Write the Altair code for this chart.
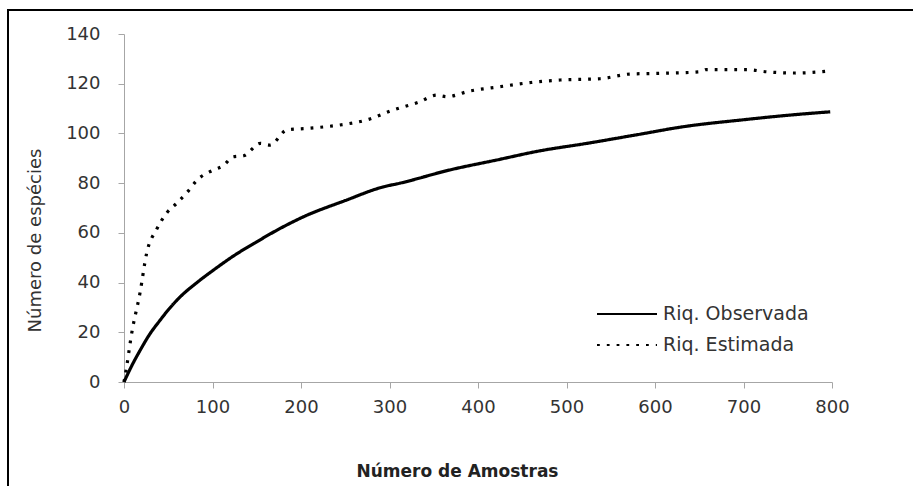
import altair as alt
import pandas as pd

# Riq. Observada (solid curve)
obs_x = [0, 5, 10, 18, 29, 40, 50, 60, 86, 101, 125, 150, 175, 203, 250, 293,
         312, 368, 421, 470, 523, 580, 632, 700, 750, 798]
obs_y = [0, 3.8, 7.4, 12.6, 19.2, 24.5, 29, 33, 41, 45, 51, 56.4, 61.5, 66.5, 73,
         78.5, 80, 85.3, 89.3, 93, 96, 99.5, 102.7, 105.5, 107.3, 108.7]

# Riq. Estimada (dotted curve)
est_x = [0, 3, 8.7, 18, 25.6, 37, 48, 59.5, 73, 82, 101, 112, 123.5, 135, 154,
         165, 184, 206, 244, 274, 304, 334, 353, 365, 390, 425, 460, 493, 538,
         572, 610, 651, 658, 703, 726, 760, 798]
est_y = [0, 6.2, 19.6, 35.7, 51.8, 61.5, 67.9, 71.9, 77, 81, 85.3, 87, 90.6, 91,
         96, 95.3, 101.4, 102, 103.4, 105.4, 109.4, 112.7, 115.4, 114.8, 117,
         118.8, 120.5, 121.5, 122, 123.9, 124.2, 124.8, 125.7, 125.7, 124.8,
         124.3, 125.2]

series_names = ["Riq. Observada", "Riq. Estimada"]
x_ticks = [0, 100, 200, 300, 400, 500, 600, 700, 800]
y_ticks = [0, 20, 40, 60, 80, 100, 120, 140]

df = pd.concat([
    pd.DataFrame({"x": obs_x, "y": obs_y, "series": series_names[0]}),
    pd.DataFrame({"x": est_x, "y": est_y, "series": series_names[1]}),
])

FONT = "DejaVu Sans"
AXIS_GRAY = "#a6a6a6"

lines = alt.Chart(df).mark_line(color="black", strokeWidth=3.2,
                                interpolate="monotone").encode(
    x=alt.X("x:Q",
            scale=alt.Scale(domain=[0, 800], nice=False),
            axis=alt.Axis(values=x_ticks, title="Número de Amostras",
                          grid=False, domainColor=AXIS_GRAY, tickColor=AXIS_GRAY,
                          tickSize=6, labelFont=FONT, labelFontSize=18,
                          labelColor="#333333", labelPadding=10, labelFlush=False,
                          titleFont=FONT, titleFontSize=17, titleFontWeight="bold",
                          titleColor="#222222", titleX=333, titleY=94,
                          titleBaseline="alphabetic")),
    y=alt.Y("y:Q",
            scale=alt.Scale(domain=[0, 140], nice=False),
            axis=alt.Axis(values=y_ticks, title="Número de espécies",
                          grid=False, domainColor=AXIS_GRAY, tickColor=AXIS_GRAY,
                          tickSize=6, labelFont=FONT, labelFontSize=18,
                          labelColor="#333333", labelPadding=18, labelFlush=False,
                          titleFont=FONT, titleFontSize=18, titleFontWeight="normal",
                          titleColor="#333333", titleX=-84, titleY=206,
                          titleAngle=270, titleBaseline="alphabetic",
                          titleAlign="center")),
    strokeDash=alt.StrokeDash(
        "series:N",
        scale=alt.Scale(domain=series_names, range=[[1, 0], [2.8, 7]]),
        legend=alt.Legend(title=None, orient="none", legendX=492, legendY=269,
                          symbolType="M-3,0H3", symbolSize=400,
                          symbolStrokeWidth=2, symbolStrokeColor="black",
                          labelFont=FONT, labelFontSize=19, labelColor="#333333",
                          labelOffset=25, rowPadding=10),
    ),
)

frame = alt.Chart(alt.Data(values=[{}])).mark_rect(
    fill="transparent", stroke="black", strokeWidth=2
).encode(
    x=alt.value(-116), x2=alt.value(800),
    y=alt.value(-24), y2=alt.value(500),
)

chart = alt.layer(lines, frame).properties(
    width=708, height=348,
    autosize=alt.AutoSizeParams(type="none"),
    padding={"left": 124, "top": 34, "right": 81, "bottom": 104},
    background="white",
).configure_view(stroke=None)

chart.save("out.html", embed_options={"renderer": "svg", "actions": False})
